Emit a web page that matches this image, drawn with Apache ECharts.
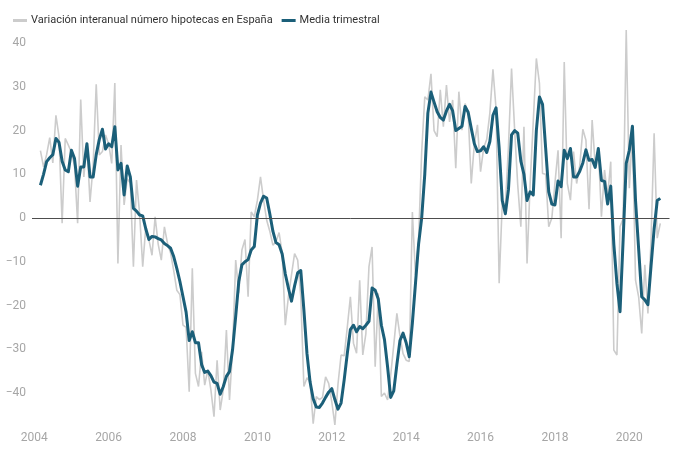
<!DOCTYPE html>
<html>
<head>
<meta charset="utf-8">
<script src="https://cdn.jsdelivr.net/npm/echarts@6/dist/echarts.min.js"></script>
<style>
html,body{margin:0;padding:0;background:#fff;}
#chart{width:680px;height:460px;}
</style>
</head>
<body>
<div id="chart"></div>
<script>
// Monthly data, first point: March 2004
const startYear = 2004;
const startMonth = 3;
const seriesNames = ['Variación interanual número hipotecas en España', 'Media trimestral'];
const xTickLabels = ['2004','2006','2008','2010','2012','2014','2016','2018','2020'];

const monthlyVariation = [
  15.4, 11.7, 14.5, 18.4, 12.6, 23.5, 18.6, -1.2, 18.2, 16.7,
  15, 12, -1.2, 27.1, 9.4, 17, 3.7, 12, 30.6, 14.4,
  15.2, 19, 17, 12.5, 30.9, -10.4, 16.7, 3, 9, 8,
  -11.1, 8.7, 1, -11.1, -2, -5, -8.5, 0.3, -6, -9.6,
  -2, -5.8, -8, -12, -16.5, -17.5, -24.5, -25, -39.7, -11.5,
  -35.5, -38.5, -30.6, -38.2, -34.7, -39.3, -45.4, -32.5, -43.9, -39.3,
  -25.6, -41.6, -30, -9.6, -17.2, -7.3, -4.9, -18, 1.4, 0.3,
  4.1, 9.4, 4.1, -0.5, -3, -6.2, -5.4, -3.3, -8, -24.5,
  -18, -13, -8.1, -9.6, -18, -38.5, -36.5, -37.5, -47, -40.8,
  -41.5, -41, -36.3, -37.8, -42, -47.3, -38, -31.3, -31.5, -25,
  -18, -28.6, -30.9, -14.2, -31.3, -26.4, -11.1, -6.6, -34, -17.2,
  -40.8, -40, -41.6, -36, -29, -21.8, -27, -31, -32.5, -32.8,
  1.4, -13, -5, 15, 27.7, 27, 33, 20, 18.6, 29.3,
  20.9, 30.4, 22, 27, 11.4, 28.9, 20.1, 26.2, 24, 7.9,
  17, 21.3, 10.6, 16, 18, 24, 34, 25, -14.9, 3.4,
  3, 16.3, 34.2, 20.1, 7.5, -2, 20.9, -10.4, 7.9, 22,
  36.5, 30.8, 10.2, 10, -2, 0, 8, 15.5, -4.6, 35.7,
  7.9, 4.1, 15.2, 7.9, 12, 20.3, 17.8, 2, 22.4, 12,
  16, 0.3, 11, 5, 12.9, -30.2, -31.3, -2, -0.1, 43,
  6.8, 20.1, -14.2, -18, -26.4, -10.7, -21.8, -5, 19.4, -4.6,
  -1.2
];

const quarterlyAverage = [
  7.5, 10, 12.9, 13.8, 14.5, 18.2, 17.3, 13, 11, 10.6,
  15.5, 13.6, 7.3, 11.7, 11.7, 17, 9.4, 9.4, 14.5, 18,
  20.3, 15.8, 17, 16.3, 20.9, 11, 12.5, 5.3, 11.9, 9.4,
  2.2, 1.6, 0.7, 0.5, -2.5, -4.9, -4.2, -4.3, -4.7, -5,
  -5.8, -6.3, -6.9, -8.8, -11.5, -14.5, -18, -21.5, -28, -26,
  -28.5, -28.5, -33.5, -35.3, -35, -36, -37.5, -37.8, -40.3, -38.5,
  -36.2, -35.1, -30, -22.5, -14.5, -10.7, -10, -9.5, -7.3, -6.5,
  0.7, 3.4, 5, 4.6, 1, -3, -5.6, -6.1, -8.2, -12.8,
  -16, -19, -15.5, -12.5, -12, -21, -31, -37.5, -41.3, -43.2,
  -43.3, -42.3, -41, -39.8, -39, -41.5, -43.7, -42.3, -37, -31,
  -25.5, -24.5, -26, -24.8, -25.3, -24.5, -23.6, -16, -16.5, -18.5,
  -24.5, -27.8, -34, -41, -39.5, -33.5, -28, -26.3, -28.5, -31.7,
  -24, -15, -6, 0, 10, 24, 28.8, 26.5, 24.3, 23,
  22.4, 24.5, 26, 24.5, 20, 20.5, 21, 25.5, 24.2, 20.5,
  17, 15.2, 15.4, 16.3, 15, 17.5, 23.5, 25.2, 16, 4,
  1, 6.5, 19, 20, 19.4, 13, 10, 4, 6, 5.3,
  20, 27.7, 26, 16, 6, 3.2, 3, 8.5, 7.2, 15.5,
  13.6, 15.9, 9.4, 9.4, 10.7, 12.6, 15.6, 13.2, 13.4, 11.6,
  15.9, 8.6, 8.4, 3.2, 7.3, -6, -15, -21.4, -5, 12.5,
  15.5, 21, 4, -7, -18, -18.7, -19.8, -11, -2.5, 4,
  4.5
];

// time position of each monthly observation (decimal year)
function monthPos(i) { return startYear + (startMonth - 1 + i) / 12; }
const greyData = monthlyVariation.map((v, i) => [monthPos(i), v]);
const tealData = quarterlyAverage.map((v, i) => [monthPos(i), v]);

const chart = echarts.init(document.getElementById('chart'), null, {renderer: 'canvas'});
const option = {
  animation: false,
  backgroundColor: '#ffffff',
  textStyle: {fontFamily: 'Roboto, sans-serif'},
  legend: {
    left: 8,
    top: 10,
    icon: 'rect',
    itemWidth: 14,
    itemHeight: 3,
    itemGap: 9,
    textStyle: {color: '#333', fontSize: 11, fontFamily: 'Roboto', padding: [0, 0, 0, -1]},
    data: seriesNames
  },
  grid: {left: 32, right: 10.5, top: 30, bottom: 32, containLabel: false},
  xAxis: {
    type: 'value',
    min: 2003.94,
    max: 2021.08,
    minInterval: 2,
    maxInterval: 2,
    axisLine: {show: false},
    axisTick: {show: false},
    splitLine: {show: false},
    axisLabel: {
      color: '#a6a6a6',
      fontSize: 12,
      fontFamily: 'Roboto',
      margin: 4,
      showMinLabel: false,
      showMaxLabel: false,
      formatter: function (v) {
        const s = String(Math.round(v));
        return (Math.abs(v - Math.round(v)) < 1e-6 && xTickLabels.indexOf(s) >= 0) ? s : '';
      }
    }
  },
  yAxis: {
    type: 'value',
    min: -48,
    max: 43,
    minInterval: 10,
    maxInterval: 10,
    axisLine: {show: false},
    axisTick: {show: false},
    splitLine: {show: false},
    axisLabel: {
      color: '#a6a6a6',
      fontSize: 12,
      fontFamily: 'Roboto',
      margin: 6,
      showMinLabel: false,
      showMaxLabel: false,
      formatter: function (v) {
        if (Math.abs(v % 10) > 1e-6) return '';
        return v < 0 ? '\u2212' + Math.abs(v) : String(v);
      }
    }
  },
  series: [
    {
      name: seriesNames[0],
      type: 'line',
      data: greyData,
      showSymbol: false,
      symbol: 'none',
      lineStyle: {color: '#cccccc', width: 1.6},
      itemStyle: {color: '#cccccc'},
      z: 2,
      markLine: {
        silent: true,
        symbol: 'none',
        label: {show: false},
        lineStyle: {color: '#4d4d4d', width: 1, type: 'solid'},
        data: [{yAxis: 0}]
      }
    },
    {
      name: seriesNames[1],
      type: 'line',
      data: tealData,
      showSymbol: false,
      symbol: 'none',
      lineStyle: {color: '#1b5f79', width: 3, join: 'round'},
      itemStyle: {color: '#1b5f79'},
      z: 3
    }
  ]
};
chart.setOption(option);
</script>
</body>
</html>
